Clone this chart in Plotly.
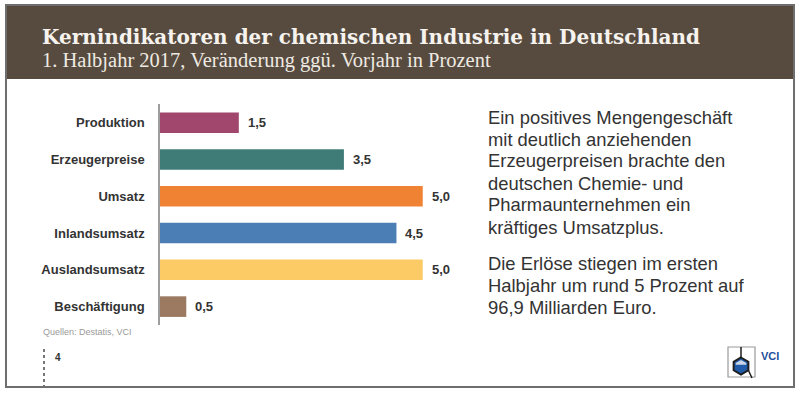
import plotly.graph_objects as go
import math

# ---- data ----
categories = ["Produktion", "Erzeugerpreise", "Umsatz", "Inlandsumsatz", "Auslandsumsatz", "Beschäftigung"]
values = [1.5, 3.5, 5.0, 4.5, 5.0, 0.5]
bar_colors = ["#A1466D", "#3F7C78", "#F08233", "#4B7EB5", "#FDCB66", "#9C7A62"]
value_labels = [f"{v:.1f}".replace(".", ",") for v in values]

title = "Kernindikatoren der chemischen Industrie in Deutschland"
subtitle = "1. Halbjahr 2017, Veränderung ggü. Vorjahr in Prozent"
para1 = ["Ein positives Mengengeschäft", "mit deutlich anziehenden", "Erzeugerpreisen brachte den",
         "deutschen Chemie- und", "Pharmaunternehmen ein", "kräftiges Umsatzplus."]
para2 = ["Die Erlöse stiegen im ersten", "Halbjahr um rund 5 Prozent auf", "96,9 Milliarden Euro."]
source = "Quellen: Destatis, VCI"
page_no = "4"

W, H = 800, 398


def px(x):
    return x / W


def py(y):
    return 1 - y / H


fig = go.Figure()
fig.add_trace(go.Bar(
    x=values, y=categories, orientation="h",
    marker=dict(color=bar_colors, line=dict(width=0)),
    width=0.56, hoverinfo="skip",
))

annotations = []
for c, v, lab in zip(categories, values, value_labels):
    annotations.append(dict(x=v, y=c, xref="x", yref="y", text=lab, showarrow=False,
                            xanchor="left", yanchor="middle", xshift=7,
                            font=dict(family="Liberation Sans, Arial", size=13, color="#333333", weight="bold")))

annotations.append(dict(x=px(40), y=py(37), xref="paper", yref="paper", text=title, showarrow=False,
                        xanchor="left", yanchor="middle",
                        font=dict(family="DejaVu Serif", size=20, color="#F6F3EE", weight="bold")))
annotations.append(dict(x=px(40), y=py(60.5), xref="paper", yref="paper", text=subtitle, showarrow=False,
                        xanchor="left", yanchor="middle",
                        font=dict(family="Liberation Serif", size=20.5, color="#EEEAE3")))

ys1 = [117, 139, 161, 183, 205, 227]
ys2 = [263, 285, 307]
for line, yy in list(zip(para1, ys1)) + list(zip(para2, ys2)):
    annotations.append(dict(x=px(486), y=py(yy), xref="paper", yref="paper", text=line, showarrow=False,
                            xanchor="left", yanchor="middle",
                            font=dict(family="Liberation Sans, Arial", size=18.4, color="#333333")))

annotations.append(dict(x=px(41), y=py(332), xref="paper", yref="paper", text=source, showarrow=False,
                        xanchor="left", yanchor="middle",
                        font=dict(family="Liberation Sans, Arial", size=9, color="#9A9A9A")))
annotations.append(dict(x=px(53), y=py(357), xref="paper", yref="paper", text=page_no, showarrow=False,
                        xanchor="left", yanchor="middle",
                        font=dict(family="Liberation Sans, Arial", size=10, color="#333333", weight="bold")))
annotations.append(dict(x=px(759), y=py(356), xref="paper", yref="paper", text="VCI", showarrow=False,
                        xanchor="left", yanchor="middle",
                        font=dict(family="Liberation Sans, Arial", size=11, color="#1F4F9C", weight="bold")))

shapes = []
# header band
shapes.append(dict(type="rect", xref="paper", yref="paper", x0=px(6), x1=px(794), y0=py(5), y1=py(79),
                   fillcolor="#574A3E", line=dict(width=0), layer="below"))
# frame
shapes.append(dict(type="rect", xref="paper", yref="paper", x0=px(6), x1=px(794), y0=py(5), y1=py(387),
                   fillcolor="rgba(0,0,0,0)", line=dict(color="#6E6E6E", width=2)))
# dotted page marker
shapes.append(dict(type="line", xref="paper", yref="paper", x0=px(44), x1=px(44), y0=py(349), y1=py(386),
                   line=dict(color="#777777", width=2, dash="dot")))
# logo box
shapes.append(dict(type="rect", xref="paper", yref="paper", x0=px(728), x1=px(755), y0=py(347), y1=py(377),
                   fillcolor="rgba(0,0,0,0)", line=dict(color="#9A9A9A", width=1.2)))
# logo hexagon
cx, cy, r = 741, 366, 8.5
pts = [(cx + r * math.sin(math.radians(a)), cy - r * math.cos(math.radians(a))) for a in range(0, 360, 60)]
path = "M " + " L ".join(f"{px(x):.5f},{py(y):.5f}" for x, y in pts) + " Z"
shapes.append(dict(type="path", xref="paper", yref="paper", path=path,
                   fillcolor="#1F5BA8", line=dict(color="#1E1E1E", width=2)))
tp = [(cx - r * 0.62, cy - r * 0.15), (cx - r * 0.62, cy - r * 0.35), (cx, cy - r * 0.72),
      (cx + r * 0.62, cy - r * 0.35), (cx + r * 0.62, cy - r * 0.15)]
path2 = "M " + " L ".join(f"{px(x):.5f},{py(y):.5f}" for x, y in tp) + " Z"
shapes.append(dict(type="path", xref="paper", yref="paper", path=path2,
                   fillcolor="#C9D6E8", line=dict(width=0)))
shapes.append(dict(type="line", xref="paper", yref="paper", x0=px(cx), x1=px(cx), y0=py(cy - r), y1=py(347),
                   line=dict(color="#1E1E1E", width=1.5)))
shapes.append(dict(type="line", xref="paper", yref="paper", x0=px(pts[2][0]), x1=px(752), y0=py(pts[2][1]), y1=py(378),
                   line=dict(color="#1E1E1E", width=1.5)))

fig.update_layout(
    width=W, height=H,
    margin=dict(l=0, r=0, t=0, b=0),
    paper_bgcolor="white", plot_bgcolor="rgba(0,0,0,0)",
    showlegend=False,
    annotations=annotations, shapes=shapes,
    xaxis=dict(domain=[px(160), px(449)], range=[0, 5.5], visible=False, fixedrange=True),
    yaxis=dict(domain=[py(325), py(104.3)], range=[5.5, -0.5], type="category",
               showline=True, linecolor="#9E9E9E", linewidth=1.5, showgrid=False, zeroline=False,
               ticks="", ticklabelstandoff=11,
               tickfont=dict(family="Liberation Sans, Arial", size=13, color="#333333", weight="bold"),
               fixedrange=True),
)

fig.write_html("out.html", config={"displayModeBar": False},
               post_script="document.body.style.margin='0';document.body.style.overflow='hidden';")
